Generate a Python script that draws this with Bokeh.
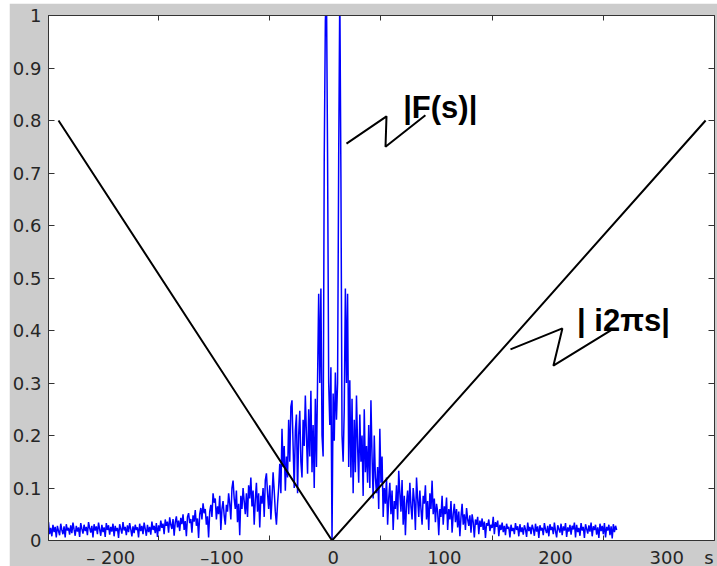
import numpy as np
from bokeh.plotting import figure
from bokeh.models import Range1d, FixedTicker, LinearAxis, Label
from bokeh.embed import file_html
from bokeh.resources import INLINE

# |F(s)| sampled at s = -256 ... 255 (10 samples per row)
F_MAG = [
    0.035, 0.012, 0.024, 0.008, 0.030, 0.016, 0.026, 0.006, 0.028, 0.018,
    0.010, 0.032, 0.020, 0.012, 0.027, 0.006, 0.031, 0.019, 0.024, 0.011,
    0.029, 0.014, 0.034, 0.021, 0.009, 0.028, 0.017, 0.025, 0.007, 0.033,
    0.022, 0.013, 0.030, 0.018, 0.026, 0.010, 0.035, 0.024, 0.015, 0.028,
    0.006, 0.031, 0.019, 0.027, 0.012, 0.034, 0.021, 0.009, 0.030, 0.016,
    0.025, 0.007, 0.033, 0.020, 0.029, 0.011, 0.026, 0.017, 0.032, 0.008,
    0.028, 0.018, 0.024, 0.005, 0.031, 0.022, 0.013, 0.035, 0.019, 0.026,
    0.010, 0.029, 0.016, 0.033, 0.021, 0.008, 0.027, 0.014, 0.030, 0.020,
    0.025, 0.006, 0.032, 0.018, 0.028, 0.012, 0.034, 0.022, 0.009, 0.030,
    0.016, 0.026, 0.011, 0.036, 0.020, 0.028, 0.014, 0.033, 0.007, 0.029,
    0.018, 0.038, 0.024, 0.032, 0.012, 0.040, 0.028, 0.036, 0.015, 0.044,
    0.030, 0.022, 0.041, 0.009, 0.035, 0.046, 0.025, 0.038, 0.018, 0.043,
    0.031, 0.050, 0.020, 0.037, 0.008, 0.045, 0.052, 0.033, 0.041, 0.015,
    0.048, 0.036, 0.058, 0.028, 0.042, 0.005, 0.050, 0.062, 0.040, 0.071,
    0.052, 0.060, 0.030, 0.046, 0.006, 0.055, 0.068, 0.045, 0.090, 0.072,
    0.080, 0.040, 0.065, 0.050, 0.085, 0.020, 0.060, 0.075, 0.048, 0.030,
    0.068, 0.055, 0.090, 0.070, 0.040, 0.100, 0.114, 0.080, 0.060, 0.095,
    0.035, 0.070, 0.010, 0.085, 0.060, 0.100, 0.075, 0.050, 0.090, 0.045,
    0.105, 0.080, 0.120, 0.065, 0.095, 0.030, 0.078, 0.110, 0.055, 0.090,
    0.025, 0.085, 0.070, 0.100, 0.045, 0.115, 0.128, 0.090, 0.060, 0.105,
    0.040, 0.080, 0.130, 0.095, 0.055, 0.030, 0.070, 0.100, 0.146, 0.090,
    0.213, 0.140, 0.180, 0.095, 0.160, 0.120, 0.230, 0.150, 0.255, 0.267,
    0.180, 0.100, 0.210, 0.240, 0.090, 0.200, 0.247, 0.150, 0.120, 0.230,
    0.180, 0.276, 0.200, 0.127, 0.250, 0.160, 0.285, 0.130, 0.220, 0.100,
    0.270, 0.140, 0.305, 0.470, 0.300, 0.480, 0.200, 0.160, 0.730, 0.990,
    1.050, 0.730, 0.300, 0.220, 0.330, 0.000, 0.280, 0.190, 0.320, 0.230,
    0.300, 0.730, 1.050, 0.695, 0.200, 0.150, 0.250, 0.480, 0.300, 0.470,
    0.140, 0.305, 0.120, 0.270, 0.090, 0.230, 0.130, 0.276, 0.180, 0.110,
    0.240, 0.150, 0.200, 0.085, 0.250, 0.130, 0.180, 0.110, 0.220, 0.100,
    0.267, 0.160, 0.080, 0.200, 0.120, 0.090, 0.140, 0.060, 0.213, 0.110,
    0.160, 0.045, 0.100, 0.070, 0.120, 0.030, 0.080, 0.110, 0.050, 0.095,
    0.020, 0.075, 0.060, 0.105, 0.040, 0.133, 0.090, 0.055, 0.115, 0.030,
    0.085, 0.010, 0.070, 0.095, 0.050, 0.110, 0.065, 0.040, 0.100, 0.075,
    0.020, 0.120, 0.080, 0.045, 0.095, 0.060, 0.030, 0.085, 0.070, 0.105,
    0.040, 0.075, 0.020, 0.090, 0.060, 0.114, 0.050, 0.080, 0.035, 0.070,
    0.055, 0.010, 0.060, 0.045, 0.085, 0.030, 0.065, 0.050, 0.082, 0.020,
    0.060, 0.040, 0.075, 0.015, 0.050, 0.070, 0.035, 0.060, 0.025, 0.055,
    0.008, 0.045, 0.070, 0.030, 0.050, 0.020, 0.062, 0.040, 0.028, 0.048,
    0.015, 0.050, 0.035, 0.006, 0.040, 0.030, 0.045, 0.012, 0.038, 0.026,
    0.042, 0.020, 0.036, 0.005, 0.033, 0.028, 0.040, 0.018, 0.030, 0.024,
    0.045, 0.012, 0.035, 0.026, 0.038, 0.008, 0.030, 0.020, 0.034, 0.016,
    0.028, 0.010, 0.032, 0.022, 0.026, 0.006, 0.030, 0.018, 0.024, 0.012,
    0.033, 0.020, 0.027, 0.008, 0.031, 0.016, 0.025, 0.011, 0.029, 0.021,
    0.007, 0.034, 0.018, 0.026, 0.012, 0.030, 0.022, 0.009, 0.032, 0.017,
    0.027, 0.005, 0.029, 0.019, 0.024, 0.010, 0.033, 0.021, 0.014, 0.028,
    0.008, 0.031, 0.020, 0.026, 0.012, 0.034, 0.018, 0.006, 0.029, 0.022,
    0.015, 0.032, 0.010, 0.027, 0.019, 0.033, 0.007, 0.025, 0.017, 0.030,
    0.011, 0.028, 0.021, 0.034, 0.006, 0.030, 0.016, 0.024, 0.009, 0.033,
    0.019, 0.026, 0.005, 0.031, 0.022, 0.013, 0.029, 0.017, 0.034, 0.008,
    0.027, 0.020, 0.030, 0.011, 0.025, 0.005, 0.032, 0.018, 0.028, 0.012,
    0.033, 0.006, 0.026, 0.019, 0.030, 0.010, 0.027, 0.004, 0.031, 0.016,
    0.028, 0.020,
]
S_START = -256
s_vals = np.arange(S_START, S_START + len(F_MAG))

# |i 2 pi s| drawn as a V reaching 0.8 at both ends
ramp_s = [-247, -1, 335]
ramp_v = [0.8, 0.0, 0.8]

# zig-zag leaders for the two captions
f_lead_s = [12.0, 48.0, 47.1, 83.0]
f_lead_v = [0.756, 0.808, 0.750, 0.810]
r_lead_s = [159.5, 206.2, 198.1, 251.2]
r_lead_v = [0.364, 0.404, 0.333, 0.402]

x_label_ticks = [-200, -100, 0, 100, 200, 300]
x_label_text = ["\u2013 200", "\u2013100", "0", "100", "200", "300"]
x_mark_ticks = [-157, -57, 43, 143, 243]
x_name = "s"
x_name_at = 338
y_ticks = [0, 0.1, 0.2, 0.3, 0.4, 0.5, 0.6, 0.7, 0.8, 0.9, 1]
y_tick_text = ["0", "0.1", "0.2", "0.3", "0.4", "0.5", "0.6", "0.7", "0.8", "0.9", "1"]

GREY = "#cccccc"
FRAME = "#333333"
TICK_FONT = "DejaVu Sans"

p = figure(
    frame_width=666, frame_height=525,
    x_range=Range1d(-256, 343), y_range=Range1d(0, 1),
    x_axis_type=None, y_axis_type=None,
    output_backend="svg", toolbar_location=None,
    background_fill_color="white", border_fill_color=GREY,
    min_border_left=39, min_border_top=12, min_border_right=3, min_border_bottom=26,
)
p.margin = (3, 0, 0, 9)
p.grid.visible = False
p.outline_line_color = FRAME
p.outline_line_width = 1


def style_axis(ax):
    ax.axis_line_color = FRAME
    ax.major_tick_line_color = FRAME
    ax.minor_tick_line_color = FRAME
    ax.major_label_text_font = TICK_FONT
    ax.major_label_text_font_size = "18px"
    ax.major_label_text_color = "#262626"


# bottom axis: value labels, small inward marks between them, and the variable name
bottom_labels = dict(zip(x_label_ticks, x_label_text))
bottom_labels[x_name_at] = x_name
xb = LinearAxis(ticker=FixedTicker(ticks=x_label_ticks + [x_name_at], minor_ticks=x_mark_ticks),
                major_label_overrides=bottom_labels)
style_axis(xb)
xb.major_tick_in = 0
xb.major_tick_out = 0
xb.minor_tick_in = 5
xb.minor_tick_out = 0
xb.major_label_standoff = 6
p.add_layout(xb, "below")

xt = LinearAxis(ticker=FixedTicker(ticks=[], minor_ticks=x_mark_ticks))
style_axis(xt)
xt.minor_tick_in = 5
xt.minor_tick_out = 0
xt.major_label_standoff = 0
p.add_layout(xt, "above")

yl = LinearAxis(ticker=FixedTicker(ticks=y_ticks),
                major_label_overrides=dict(zip(y_ticks, y_tick_text)))
style_axis(yl)
yl.major_tick_in = 6
yl.major_tick_out = 0
yl.major_label_standoff = 7
p.add_layout(yl, "left")

yr = LinearAxis(ticker=FixedTicker(ticks=[], minor_ticks=y_ticks[1:-1]))
style_axis(yr)
yr.minor_tick_in = 6
yr.minor_tick_out = 0
yr.major_label_standoff = 0
p.add_layout(yr, "right")

# spectrum magnitude and the linear ramp
p.line(s_vals, F_MAG, line_color="#0000ff", line_width=1.5)
p.line(ramp_s, ramp_v, line_color="black", line_width=2)

# captions with their leaders
p.line(f_lead_s, f_lead_v, line_color="black", line_width=2)
p.line(r_lead_s, r_lead_v, line_color="black", line_width=2)
p.add_layout(Label(x=63, y=0.825, text="|F(s)|", text_font="Liberation Sans",
                   text_font_style="bold", text_font_size="31px",
                   text_color="black", text_baseline="alphabetic"))
p.add_layout(Label(x=219.4, y=0.419, text="| i2\u03c0s|", text_font="Liberation Sans",
                   text_font_style="bold", text_font_size="31px",
                   text_color="black", text_baseline="alphabetic"))

open("out.html", "w").write(file_html(p, INLINE))
